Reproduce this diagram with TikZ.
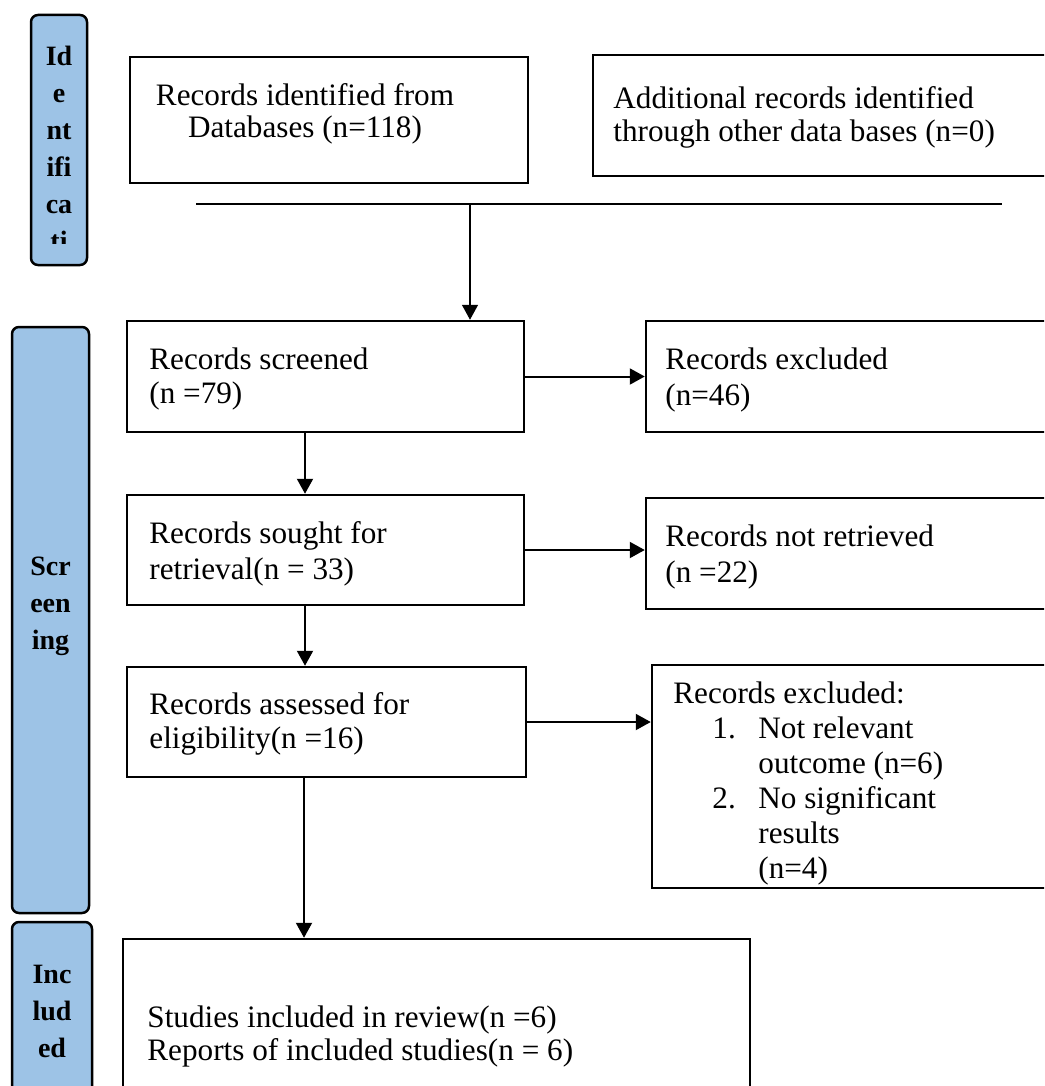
\documentclass[tikz,border=0pt]{standalone}
\usepackage{fontspec}
\setmainfont{Liberation Serif}
\usetikzlibrary{arrows.meta}
\definecolor{phaseblue}{HTML}{9DC3E6}
\newcommand{\boxfont}{\fontsize{15.6}{17}\selectfont}
\newcommand{\phasefont}{\fontsize{14}{18.5}\selectfont\bfseries}
\tikzset{
  recbox/.style={draw, line width=1.25pt, inner sep=0pt},
  phasebox/.style={draw, line width=1.25pt, fill=phaseblue, rounded corners=3.5pt, inner sep=0pt},
  rectext/.style={anchor=north west, inner sep=0pt, align=left, font=\boxfont},
  phasetext/.style={anchor=north, inner sep=0pt, align=center, font=\phasefont},
  flow/.style={line width=1pt, -{Triangle[length=7.5pt,width=8pt]}}
}
\begin{document}
\begin{tikzpicture}[x=0.5pt, y=-0.5pt]
    \useasboundingbox (0,0) rectangle (1044,1086);
    \clip (0,0) rectangle (1044,1086);
    % phase bars
    \node[phasebox, minimum width=28pt, minimum height=125pt] (ident) at (59,140) {};
    \node[phasebox, minimum width=38.5pt, minimum height=293pt] (screen) at (50.5,620) {};
    \node[phasebox, minimum width=40pt, minimum height=94pt] (incl) at (52,1016) {};
    \begin{scope}
        \clip (31,15) rectangle (87,243);
        \node[phasetext] (identtxt) at (59,46) {Id\\e\\nt\\ifi\\ca\\ti};
    \end{scope}
    \node[phasetext] (screentxt) at (50.5,557) {Scr\\een\\ing};
    \node[phasetext] (incltxt) at (52,965) {Inc\\lud\\ed};
    % record boxes
    \node[recbox, minimum width=199pt, minimum height=63pt] (dbrec) at (329,120) {};
    \node[recbox, minimum width=229.5pt, minimum height=60.5pt] (otherrec) at (822.5,115.5) {};
    \node[recbox, minimum width=198.5pt, minimum height=55.5pt] (screened) at (325.5,376.5) {};
    \node[recbox, minimum width=203pt, minimum height=55.5pt] (excl) at (849,376.5) {};
    \node[recbox, minimum width=198.5pt, minimum height=55pt] (sought) at (325.5,550) {};
    \node[recbox, minimum width=203pt, minimum height=55.5pt] (notretr) at (849,553.5) {};
    \node[recbox, minimum width=199.5pt, minimum height=55pt] (assessed) at (326.5,722) {};
    \node[recbox, minimum width=200pt, minimum height=111.5pt] (exclfull) at (852,776.5) {};
    \node[recbox, minimum width=313.5pt, minimum height=85.5pt] (included) at (436.5,1024.5) {};
    % texts
    \node[rectext, anchor=north, align=center, font=\fontsize{15.6}{16.2}\selectfont] (dbtxt) at (305,83) {Records identified from\\Databases (n=118)};
    \node[rectext, font=\fontsize{15.6}{16.5}\selectfont] (othertxt) at (613,86) {Additional records identified\\through other data bases (n=0)};
    \node[rectext] (screenedtxt) at (149,347) {Records screened\\(n =79)};
    \node[rectext, font=\fontsize{15.6}{18}\selectfont] (excltxt) at (665,347) {Records excluded\\(n=46)};
    \node[rectext, font=\fontsize{15.6}{18}\selectfont] (soughttxt) at (149,521) {Records sought for\\retrieval(n = 33)};
    \node[rectext, font=\fontsize{15.6}{18}\selectfont] (notretrtxt) at (665,524) {Records not retrieved\\(n =22)};
    \node[rectext] (assessedtxt) at (149,692) {Records assessed for\\eligibility(n =16)};
    \node[rectext, font=\fontsize{15.6}{17.5}\selectfont] (exclfulltxt) at (673,681) {Records excluded:\\
        \hspace*{19.5pt}\makebox[23pt][l]{1.}Not relevant\\
        \hspace*{42.5pt}outcome (n=6)\\
        \hspace*{19.5pt}\makebox[23pt][l]{2.}No significant\\
        \hspace*{42.5pt}results\\
        \hspace*{42.5pt}(n=4)};
    \node[rectext, font=\fontsize{15.6}{16.5}\selectfont] (includedtxt) at (147,1005) {Studies included in review(n =6)\\Reports of included studies(n = 6)};
    % connectors
    \coordinate (splitL) at (196,204);
    \coordinate (splitR) at (1002,204);
    \coordinate (merge) at (470,204);
    \draw[line width=0.75pt] (splitL) -- (splitR);
    \draw[flow, line width=0.75pt] (merge) -- (merge |- screened.north);
    \draw[flow] (screened.east) -- (screened.east -| excl.west);
    \draw[flow] (sought.east) -- (sought.east -| notretr.west);
    \draw[flow] (assessed.east) -- (assessed.east -| exclfull.west);
    \draw[flow] ([xshift=-10.25pt]screened.south) -- ([xshift=-10.25pt]sought.north);
    \draw[flow] ([xshift=-10.25pt]sought.south) -- ([xshift=-10.25pt]sought.south |- assessed.north);
    \draw[flow] ([xshift=-11.25pt]assessed.south) -- ([xshift=-11.25pt]assessed.south |- included.north);
\end{tikzpicture}
\end{document}
